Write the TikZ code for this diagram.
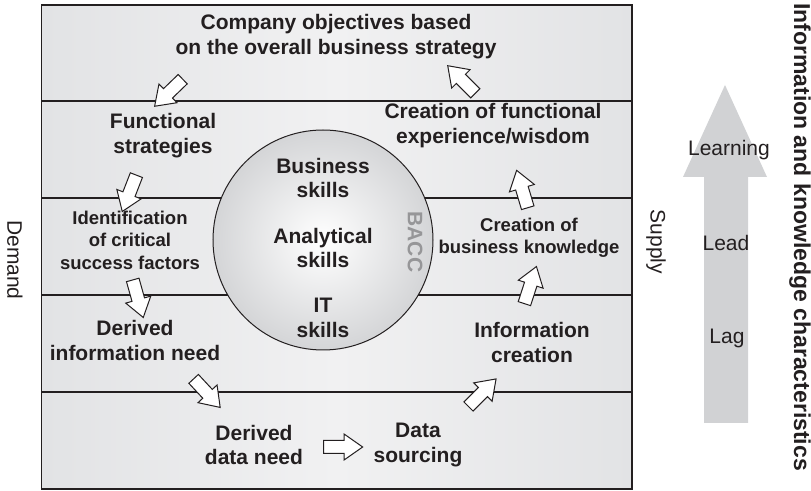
\documentclass[tikz,border=0pt]{standalone}
\usepackage{fontspec}
\setmainfont{Liberation Sans}
\usetikzlibrary{shapes.arrows}
\definecolor{inkgrey}{RGB}{35,31,32}
\definecolor{bandedge}{RGB}{226,227,229}
\definecolor{bandmid}{RGB}{241,241,242}
\definecolor{circedge}{RGB}{212,213,215}
\definecolor{baccgrey}{RGB}{150,150,152}
\definecolor{levelgrey}{RGB}{209,210,212}

\begin{document}
\begin{tikzpicture}[x=0.5pt,y=-0.5pt,
  every node/.style={font=\fontsize{10.5}{12.5}\selectfont,text=inkgrey,align=center,inner sep=0pt},
  stage/.style={font=\bfseries\fontsize{10.5}{12.5}\selectfont},
  substage/.style={font=\bfseries\fontsize{9.25}{11.25}\selectfont},
  barrow/.style={single arrow,draw=inkgrey,fill=white,line width=0.5pt,sloped,allow upside down,
    minimum height=19.5pt,inner xsep=0pt,inner ysep=3pt,single arrow head extend=3.25pt,single arrow tip angle=70},
  rule/.style={draw=inkgrey,line width=0.7pt}]
\useasboundingbox (0,0) rectangle (811,491);
% bands
\shade[left color=bandedge,right color=bandedge,middle color=bandmid] (41.7,5) rectangle (632,489);
\foreach \y in {101,198,295,392} \draw[rule] (41.7,\y) -- (632,\y);
\draw[rule] (41.7,5) rectangle (632,489);
% competence centre
\node[circle,draw=inkgrey,line width=0.5pt,shading=radial,inner color=white,outer color=circedge,minimum size=110pt] (bacc) at (323,240) {};
\node[stage] (bus) at (323,178) {Business\\skills};
\node[stage] (ana) at (323,248) {Analytical\\skills};
\node[stage] (its) at (323,318) {IT\\skills};
\node[stage,text=baccgrey,rotate=-90] (bac) at (415,242) {BACC};
% demand side
\node[stage] (obj) at (336,37) {Company objectives based\\on the overall business strategy};
\node[stage] (fun) at (163,136) {Functional\\strategies};
\node[substage] (csf) at (130,240) {Identification\\of critical\\success factors};
\node[stage] (din) at (135,340) {Derived\\information need};
\node[stage] (ddn) at (254,445) {Derived\\data need};
% supply side
\node[stage] (dso) at (418,445) {Data\\sourcing};
\node[stage] (inf) at (532,342) {Information\\creation};
\node[substage] (bkn) at (529,238) {Creation of\\business knowledge};
\node[stage] (wis) at (493,126) {Creation of functional\\experience/wisdom};
% flow arrows
\coordinate (a1s) at (186,76);    \coordinate (a1e) at (158,103);
\coordinate (a2s) at (138,171);   \coordinate (a2e) at (124,207);
\coordinate (a3s) at (131.5,275.5); \coordinate (a3e) at (142,313);
\coordinate (a4s) at (190.5,375.5); \coordinate (a4e) at (217,404);
\coordinate (a5s) at (319,447);   \coordinate (a5e) at (358,447);
\coordinate (a6s) at (465,410);   \coordinate (a6e) at (493,382);
\coordinate (a7s) at (523,308);   \coordinate (a7e) at (535,271);
\coordinate (a8s) at (529,212);   \coordinate (a8e) at (518,175);
\coordinate (a9s) at (478.6,96.6); \coordinate (a9e) at (451,69);
\foreach \i in {1,...,9} \path (a\i s) -- node[barrow] {} (a\i e);
% side labels
\node[rotate=-90] (dem) at (15,260) {Demand};
\node[rotate=-90] (sup) at (656,242) {Supply};
\fill[levelgrey] (704,423) -- (704,177) -- (683,177) -- (725,85) -- (767,177) -- (748,177) -- (748,423) -- cycle;
\node (lrn) at (729,150) {Learning};
\node (led) at (726,243) {Lead};
\node (lag) at (727,338) {Lag};
\node[font=\bfseries\fontsize{11.5}{13}\selectfont,rotate=-90] (chr) at (800,237) {Information and knowledge characteristics};
\end{tikzpicture}
\end{document}
